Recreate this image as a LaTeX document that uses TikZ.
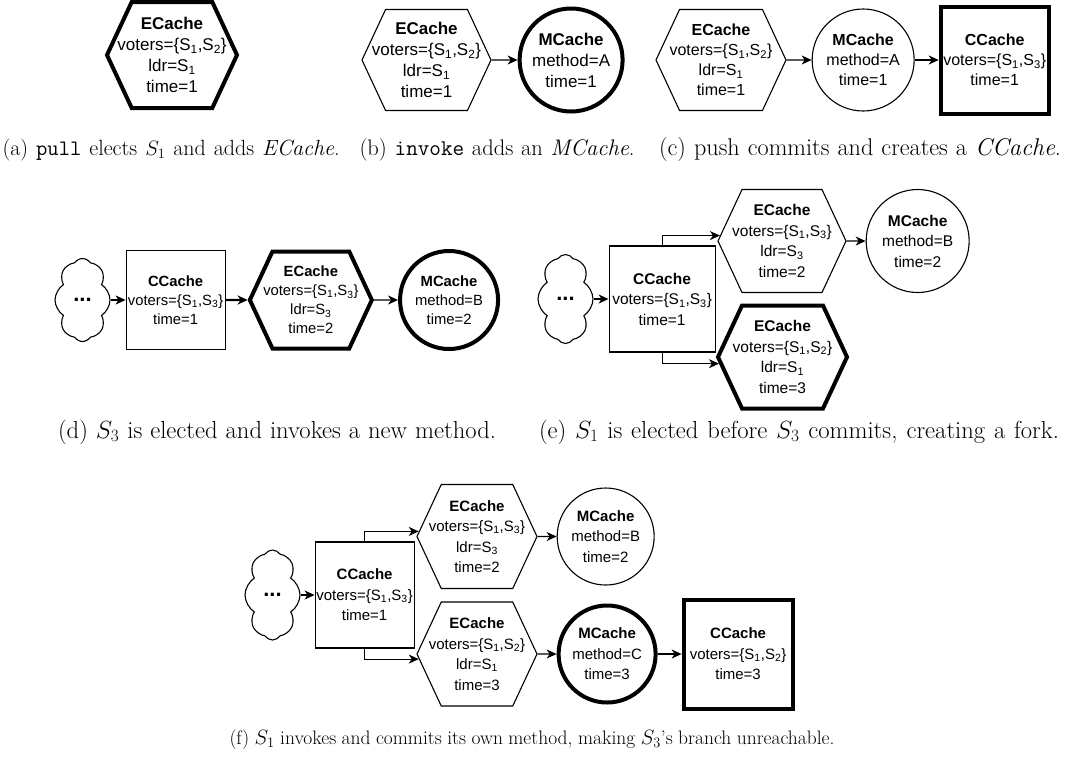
\documentclass[tikz,border=0pt]{standalone}
\usepackage{fontspec}
\setsansfont{Liberation Sans}
\usetikzlibrary{positioning,arrows.meta,shapes.symbols}
\newcommand{\Sv}[1]{S\textsubscript{#1}}
\newcommand{\etxt}[4]{\textbf{ECache}\\voters=\{\Sv{#1},\Sv{#2}\}\\ldr=\Sv{#3}\\time=#4}
\newcommand{\mtxt}[2]{\textbf{MCache}\\method=#1\\time=#2}
\newcommand{\ctxt}[3]{\textbf{CCache}\\voters=\{\Sv{#1},\Sv{#2}\}\\time=#3}
\newcommand{\cachefont}[2]{\sffamily\fontsize{#1}{#2}\selectfont}
\newcommand{\capline}[3]{\rmfamily\mdseries\fontsize{#1}{#1}\selectfont\makebox[#2pt][s]{#3}}
\tikzset{
  cache/.style  ={draw, line width=1.1pt, align=center, inner sep=0pt},
  ecache/.style ={cache, signal, signal to=east and west, signal pointer angle=130, inner xsep=-30pt},
  mcache/.style ={cache, circle},
  ccache/.style ={cache, rectangle},
  past/.style   ={cache, cloud, cloud puffs=8, cloud puff arc=115, cloud ignores aspect,
                  minimum width=55pt, font=\sffamily\bfseries\fontsize{22}{22}\selectfont},
  bold/.style   ={line width=4pt},
  flow/.style   ={-{Stealth[length=10pt,width=9pt,inset=3pt]}, line width=1.1pt},
  flowb/.style  ={flow, line width=2.2pt},
  subcap/.style ={anchor=base, inner sep=0pt},
}
\begin{document}
\begin{tikzpicture}[x=1pt,y=-1pt]
\useasboundingbox (0,0) rectangle (1065,756);

% (a) pull
\begin{scope}[font=\cachefont{17}{21}]
\node[ecache, bold, minimum width=130pt, minimum height=106pt] (hexA) at (172,55) {\etxt{1}{2}{1}{1}};
\node[subcap] (capA) at (171,155) {\capline{22}{337}{(a) \texttt{pull} elects $S_1$ and adds \emph{ECache}.}};
\end{scope}

% (b) invoke
\begin{scope}[font=\cachefont{17}{21}]
\node[ecache, minimum width=129pt, minimum height=101pt] (hexB) at (426.5,60) {\etxt{1}{2}{1}{1}};
\node[mcache, bold, minimum size=103pt, right=26pt of hexB] (circB) {\mtxt{A}{1}};
\draw[flow] (hexB) -- (circB);
\node[subcap] (capB) at (497,155) {\capline{22.5}{275}{(b) \texttt{invoke} adds an \emph{MCache}.}};
\end{scope}

% (c) push
\begin{scope}[font=\cachefont{16}{20}]
\node[ecache, minimum width=130pt, minimum height=101pt] (hexC) at (721,60) {\etxt{1}{2}{1}{1}};
\node[mcache, minimum size=102pt, right=25pt of hexC] (circC) {\mtxt{A}{1}};
\node[ccache, bold, minimum width=108pt, minimum height=107pt, right=24pt of circC] (sqC) {\ctxt{1}{3}{1}};
\draw[flow] (hexC) -- (circC);
\draw[flowb] (circC) -- (sqC);
\node[subcap] (capC) at (860,155) {\capline{24.2}{402}{(c) push commits and creates a \emph{CCache}.}};
\end{scope}

% (d) new leader
\begin{scope}[font=\cachefont{14.8}{19}]
\node[past, minimum height=83pt] (cloudD) at (82.5,300) {...};
\node[ccache, minimum size=99pt, right=15pt of cloudD] (sqD) {\ctxt{1}{3}{1}};
\node[ecache, bold, minimum width=122pt, minimum height=97pt, right=22pt of sqD] (hexD) {\etxt{1}{3}{3}{2}};
\node[mcache, bold, minimum size=98pt, right=24pt of hexD] (circD) {\mtxt{B}{2}};
\draw[flow] (cloudD) -- (sqD);
\draw[flowb] (sqD) -- (hexD);
\draw[flow] (hexD) -- (circD);
\node[subcap] (capD) at (277,438) {\capline{24.6}{438}{(d) $S_3$ is elected and invokes a new method.}};
\end{scope}

% (e) fork
\begin{scope}[font=\cachefont{15.5}{20.5}]
\node[past, minimum height=89pt] (cloudE) at (565.5,299) {...};
\node[ccache, minimum size=106pt, right=15pt of cloudE] (sqE) {\ctxt{1}{3}{1}};
\node[ecache, minimum width=128pt, minimum height=103pt] (hexEu) at (782,241) {\etxt{1}{3}{3}{2}};
\node[ecache, bold, minimum width=129pt, minimum height=103pt] (hexEl) at (782.5,357) {\etxt{1}{2}{1}{3}};
\node[mcache, minimum size=103pt, right=19pt of hexEu] (circEu) {\mtxt{B}{2}};
\draw[flow] (cloudE) -- (sqE);
\draw[flow] (sqE.north) |- (hexEu.175);
\draw[flow] (sqE.south) |- (hexEl.186);
\draw[flow] (hexEu) -- (circEu);
\node[subcap] (capE) at (799,438) {\capline{24.6}{520}{(e) $S_1$ is elected before $S_3$ commits, creating a fork.}};
\end{scope}

% (f) commit on the other branch
\begin{scope}[font=\cachefont{15}{20.5}]
\node[past, minimum height=90pt] (cloudF) at (272.5,595) {...};
\node[ccache, minimum width=99pt, minimum height=106pt, right=14pt of cloudF] (sqF) {\ctxt{1}{3}{1}};
\node[ecache, minimum width=120pt, minimum height=104pt] (hexFu) at (477,536.5) {\etxt{1}{3}{3}{2}};
\node[ecache, minimum width=120pt, minimum height=104pt] (hexFl) at (477,654) {\etxt{1}{2}{1}{3}};
\node[mcache, minimum size=97pt, right=19pt of hexFu] (circFu) {\mtxt{B}{2}};
\node[mcache, bold, minimum size=97pt, right=19pt of hexFl] (circFl) {\mtxt{C}{3}};
\node[ccache, bold, minimum size=109pt, right=24pt of circFl] (sqFl) {\ctxt{1}{2}{3}};
\draw[flow] (cloudF) -- (sqF);
\draw[flow] (sqF.north) |- (hexFu.175);
\draw[flow] (sqF.south) |- (hexFl.185);
\draw[flow] (hexFu) -- (circFu);
\draw[flow] (hexFl) -- (circFl);
\draw[flow] (circFl) -- (sqFl);
\node[subcap] (capF) at (532,744) {\capline{19.5}{605}{(f) $S_1$ invokes and commits its own method, making $S_3$'s branch unreachable.}};
\end{scope}
\end{tikzpicture}
\end{document}
